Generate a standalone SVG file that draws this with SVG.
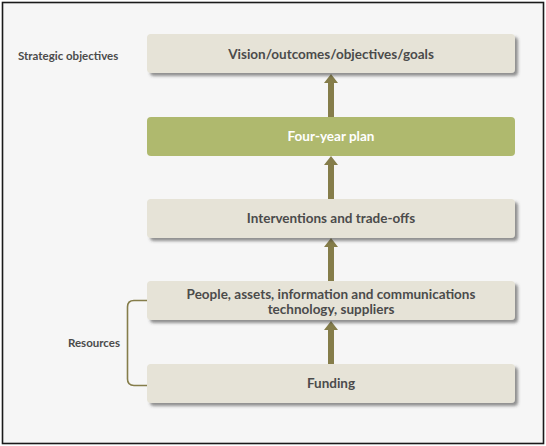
<svg xmlns="http://www.w3.org/2000/svg" width="546" height="446" viewBox="0 0 546 446">
<defs>
<filter id="sh" x="-5%" y="-20%" width="115%" height="160%">
<feDropShadow dx="3" dy="3" stdDeviation="1.6" flood-color="#3a3a3a" flood-opacity="0.55"/>
</filter>
<style>
.box{fill:#e6e3d7;filter:url(#sh)}
.green{fill:#afb96e}
.t{font-family:Lato,"Open Sans","Liberation Sans",sans-serif;font-weight:700;font-size:13.5px;fill:#4b4b4b;text-anchor:middle}
.tw{fill:#ffffff}
.lab{font-family:Lato,"Open Sans","Liberation Sans",sans-serif;font-weight:700;font-size:11.5px;fill:#4b4b4b}
.shaft{fill:#857d4a}
.brace{fill:none;stroke:#857d4a;stroke-width:1.6}
</style>
</defs>
<rect x="2.5" y="2.5" width="541" height="441" fill="#f6f6f6" stroke="#1a1a1a" stroke-width="1.6"/>
<g id="connectors">
<path class="shaft" d="M328,117 V83 H324 L331,74 L338,83 H334 V117 Z"/>
<path class="shaft" d="M328,199 V165 H324 L331,156 L338,165 H334 V199 Z"/>
<path class="shaft" d="M328,281 V247 H324 L331,238 L338,247 H334 V281 Z"/>
<path class="shaft" d="M328,364 V330 H324 L331,321 L338,330 H334 V364 Z"/>
<path class="brace" d="M147,300.5 H134 Q127.5,300.5 127.5,307 V379 Q127.5,385.5 134,385.5 H147"/>
</g>
<g id="label-strategic">
<text class="lab" x="18" y="60">Strategic objectives</text>
</g>
<g id="label-resources">
<text class="lab" x="120" y="347" text-anchor="end">Resources</text>
</g>
<g id="node-vision">
<rect class="box" x="147" y="34" width="368" height="39" rx="4"/>
<text class="t" x="331" y="59">Vision/outcomes/objectives/goals</text>
</g>
<g id="node-plan">
<rect class="green" x="147" y="117" width="368" height="39" rx="4"/>
<text class="t tw" x="331" y="141">Four-year plan</text>
</g>
<g id="node-interventions">
<rect class="box" x="147" y="199" width="368" height="39" rx="4"/>
<text class="t" x="331" y="223">Interventions and trade-offs</text>
</g>
<g id="node-people">
<rect class="box" x="147" y="281" width="368" height="39" rx="4"/>
<text class="t" x="331" y="299">People, assets, information and communications</text>
<text class="t" x="331" y="314">technology, suppliers</text>
</g>
<g id="node-funding">
<rect class="box" x="147" y="364" width="368" height="39" rx="4"/>
<text class="t" x="331" y="388">Funding</text>
</g>
</svg>
